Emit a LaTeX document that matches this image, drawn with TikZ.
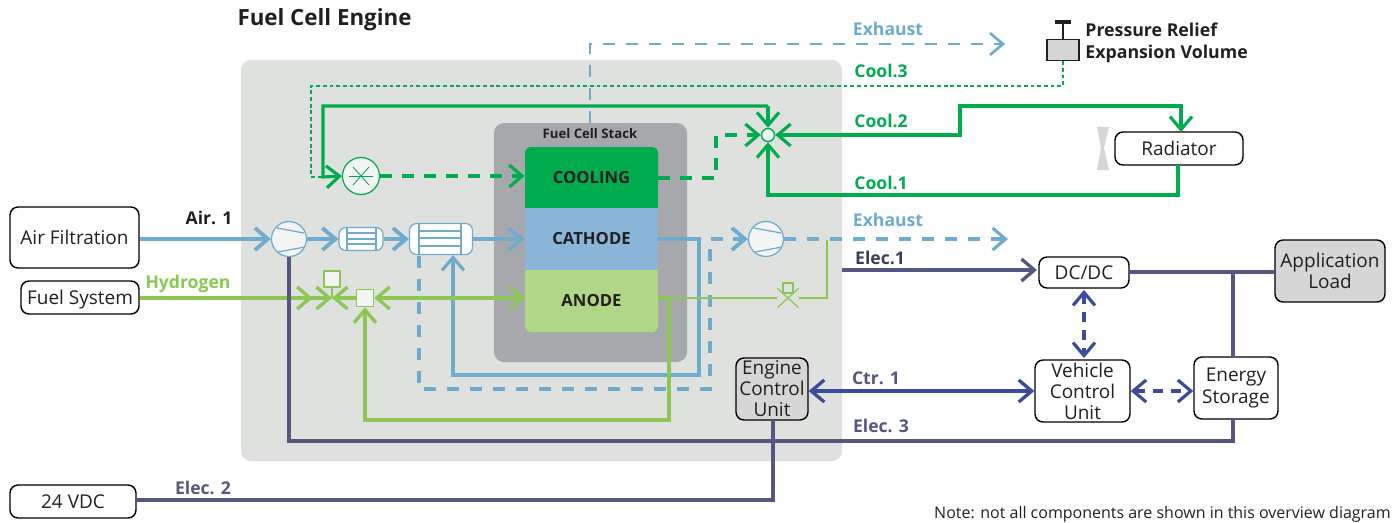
\documentclass[tikz,border=0pt]{standalone}
\usepackage{fontspec}
\setmainfont{Open Sans}
\usetikzlibrary{arrows.meta,shapes.misc}

\definecolor{panelgrey}{HTML}{DFE1DE}
\definecolor{stackgrey}{HTML}{A7A8AB}
\definecolor{coolgreen}{HTML}{00AC4E}
\definecolor{hydrogreen}{HTML}{8CC653}
\definecolor{anodegreen}{HTML}{AFD786}
\definecolor{airblue}{HTML}{6FABCD}
\definecolor{cathodeblue}{HTML}{88B5D8}
\definecolor{elecpurple}{HTML}{56577F}
\definecolor{ctrblue}{HTML}{3C4B9B}
\definecolor{symbolfill}{HTML}{F3F5F4}
\definecolor{loadgrey}{HTML}{D6D6D6}
\definecolor{inktext}{HTML}{231F20}

\tikzset{
    chevron/.style={-{Straight Barb[length=.26cm,width=.44cm]}},
    twochevron/.style={<->,>={Straight Barb[length=.26cm,width=.44cm]}},
    unitbox/.style={draw=black, thick, rounded corners=.16cm, fill=white, text=inktext, inner sep=0pt, align=center, font=\fontsize{10.8}{12}\selectfont},
    greybox/.style={unitbox, fill=loadgrey},
    layer/.style={inner sep=0pt, font=\fontsize{9.5}{11}\selectfont\bfseries, text=inktext},
    flowlabel/.style={inner sep=0pt, font=\fontsize{10}{12}\selectfont\bfseries},
    compressor/.style={shape=circle, draw=airblue, line width=.7pt, fill=symbolfill, minimum size=.7cm, inner sep=0pt,
        path picture={
            \draw[airblue, line width=.7pt] ([shift={(-12,-11)}]path picture bounding box.center) -- ++(27,5);
            \draw[airblue, line width=.7pt] ([shift={(-11,13)}]path picture bounding box.center) -- ++(27,-5);
        }},
    coolpump/.style={shape=circle, draw=coolgreen, line width=.7pt, fill=symbolfill, minimum size=.74cm, inner sep=0pt,
        path picture={
            \draw[coolgreen, line width=.5pt] ([shift={(-12,0)}]path picture bounding box.center) -- ++(24,0);
            \draw[coolgreen, line width=.5pt] ([shift={(-8,-9)}]path picture bounding box.center) -- ++(16,18);
            \draw[coolgreen, line width=.5pt] ([shift={(-8,9)}]path picture bounding box.center) -- ++(16,-18);
        }},
    exchanger/.style={draw=airblue, line width=.7pt, fill=white, rounded corners=.14cm, inner sep=0pt},
    exline/.style={airblue, line width=.7pt},
    valvebox/.style={draw=hydrogreen, line width=.8pt, fill=symbolfill, inner sep=0pt},
    airpipe/.style={airblue, line width=2.2pt},
    airreturn/.style={airblue, line width=1.8pt},
    airdash/.style={airblue, line width=1.8pt, dash pattern=on .24cm off .22cm},
    coolpipe/.style={coolgreen, line width=1.8pt},
    cooldash/.style={coolgreen, line width=1.8pt, dash pattern=on .24cm off .2cm},
    coolthin/.style={coolgreen, line width=.6pt, dash pattern=on 2.2pt off 1.6pt},
    hydropipe/.style={hydrogreen, line width=1.9pt},
    hydrothin/.style={hydrogreen, line width=.9pt},
    elecpipe/.style={elecpurple, line width=1.9pt},
    ctrpipe/.style={ctrblue, line width=1.9pt},
    ctrdash/.style={ctrblue, line width=1.8pt, dash pattern=on .2cm off .16cm},
}

\begin{document}
\begin{tikzpicture}[x=.02cm,y=-.02cm]
    \useasboundingbox (0,0) rectangle (1394,522);

    % grey backgrounds
    \fill[panelgrey, rounded corners=.2cm] (241,60) rectangle (842,461);
    \fill[stackgrey, rounded corners=.2cm] (494,123) rectangle (687,362);
    \node[inner sep=0pt, font=\fontsize{12.7}{15}\selectfont\bfseries, text=inktext] (engine) at (324.5,20) {Fuel Cell Engine};
    \node[inner sep=0pt, font=\fontsize{7.5}{9}\selectfont\bfseries, text=inktext] (stack) at (590,134) {Fuel Cell Stack};

    % the three layers of the stack
    \fill[coolgreen, rounded corners=.12cm] (525,147) rectangle (658,190);
    \fill[coolgreen] (525,170) rectangle (658,208);
    \fill[anodegreen, rounded corners=.12cm] (525,290) rectangle (658,332);
    \fill[anodegreen] (525,270) rectangle (658,310);
    \node[layer, minimum width=2.66cm, minimum height=1.22cm] (cooling) at (591.5,178) {COOLING};
    \node[fill=cathodeblue, layer, minimum width=2.66cm, minimum height=1.24cm] (cathode) at (591.5,239) {CATHODE};
    \node[layer, minimum width=2.66cm, minimum height=1.24cm] (anode) at (591.5,301) {ANODE};

    % units
    \node[unitbox, minimum width=2.58cm, minimum height=1.22cm] (airfilter) at (74.5,237.5) {Air Filtration};
    \node[unitbox, text depth=0pt, minimum width=2.36cm, minimum height=.66cm] (fuelsys) at (80,297.5) {Fuel System};
    \node[unitbox, minimum width=2.52cm, minimum height=.66cm] (vdc) at (73,501.5) {24 VDC};
    \node[unitbox, minimum width=2.56cm, minimum height=.66cm] (radiator) at (1179,148.5) {Radiator};
    \node[unitbox, minimum width=1.8cm, minimum height=.62cm] (dcdc) at (1084,272.5) {DC/DC};
    \node[greybox, minimum width=2.2cm, minimum height=1.24cm] (appload) at (1330,271) {Application\\Load};
    \node[unitbox, minimum width=1.68cm, minimum height=1.24cm] (storage) at (1236,388) {Energy\\Storage};
    \node[unitbox, minimum width=1.9cm, minimum height=1.24cm] (vcu) at (1082.5,391) {Vehicle\\Control\\Unit};
    \node[greybox, minimum width=1.44cm, minimum height=1.24cm] (ecu) at (772,389) {Engine\\Control\\Unit};

    % symbols on the pipes
    \node[compressor] (aircomp) at (289,239) {};
    \node[compressor] (exhcomp) at (766,239) {};
    \node[coolpump] (pump) at (361,176) {};
    \node[exchanger, minimum width=.88cm, minimum height=.46cm] (humid) at (361,239) {};
    \draw[exline] (347,228) -- (347,250) (376,228) -- (376,250);
    \draw[exline] (347,233) -- (376,233) (347,239) -- (376,239) (347,244) -- (376,244);
    \node[exchanger, minimum width=1.26cm, minimum height=.62cm] (cooler) at (441,239) {};
    \draw[exline] (419,224) -- (419,254) (461,224) -- (461,254);
    \draw[exline] (419,231) -- (461,231) (419,238) -- (461,238) (419,246) -- (461,246);
    \node[valvebox, minimum size=.32cm] (h2valve) at (332,279) {};
    \coordinate (h2mix) at (332,298);
    \node[valvebox, minimum size=.34cm] (h2box) at (365,298) {};
    \node[shape=circle, draw=coolgreen, line width=.8pt, fill=symbolfill, minimum size=.26cm, inner sep=0pt] (coolvalve) at (768,135) {};
    \node[shape=cross out, draw=hydrogreen, line width=.7pt, minimum width=.4cm, minimum height=.36cm, inner sep=0pt] (purge) at (788,298) {};
    \node[draw=hydrogreen, line width=.7pt, minimum size=.2cm, inner sep=0pt] (purgebox) at (788,288) {};

    % pressure relief
    \node[draw=inktext, line width=.8pt, fill=loadgrey, minimum width=.64cm, minimum height=.42cm, inner sep=0pt] (tank) at (1063,50) {};
    \coordinate (reliefcap) at (1063,22);
    \draw[inktext, line width=1.4pt] (tank) -- (reliefcap);
    \draw[inktext, line width=2.4pt] (1055,22) -- (1071,22);
    \fill[loadgrey] (1097,127) -- (1109,127) -- (1104,148) -- (1109,170) -- (1097,170) -- (1101,148) -- cycle;
    \node[inner sep=0pt, anchor=west, align=left, text=inktext, font=\fontsize{10.1}{12.4}\selectfont\bfseries] (relief) at (1085,42.5) {Pressure Relief\\Expansion Volume};

    % air
    \coordinate (exhaust1) at (1008,239);
    \coordinate (exhaust2) at (1005,44);
    \coordinate (stackdash) at (590,123);
    \draw[airpipe, chevron] (airfilter.east |- aircomp) -- (aircomp.west);
    \draw[airpipe, chevron] (aircomp.east) -- (humid.west);
    \draw[airpipe, chevron] (humid.east) -- (cooler.west);
    \draw[airpipe, chevron] (cooler.east) -- (cathode.west);
    \draw[airreturn, chevron] (cathode.east) -- (699,239) -- (699,375) -- (453,375) -- (453,255);
    \draw[airdash] (419,256) -- (419,389) -- (710,389) -- (710,239) -- (735,239);
    \draw[airpipe, chevron] (733,239) -- (exhcomp.west);
    \draw[airdash, chevron] (exhcomp.east) -- (exhaust1);
    \draw[airdash, chevron, line width=1.5pt] (stackdash) -- (590,44) -- (exhaust2);

    % cooling
    \coordinate (radin) at (1181,132);
    \coordinate (radout) at (1178,165);
    \draw[coolthin] (tank.south) -- (1063,86) -- (311,86) -- (311,177) -- (330,177);
    \draw[coolpipe, chevron] (768,106) -- (323,106) -- (323,177) -- (pump.west);
    \draw[coolpipe, chevron] (768,106) -- (coolvalve.north);
    \draw[cooldash, chevron] (pump.east) -- (pump.east -| cooling.west);
    \draw[cooldash, chevron] (cooling.east) -- (716,178) -- (716,135) -- (coolvalve.west);
    \draw[coolpipe, twochevron] (coolvalve.east) -- (960,135) -- (960,106) -- (1181,106) -- (radin);
    \draw[coolpipe, chevron] (radout) -- (1178,195) -- (768,195) -- (coolvalve.south);

    % hydrogen
    \coordinate (anodeout) at (658,298);
    \coordinate (anodein) at (525,298);
    \draw[hydrothin] (h2valve) -- (h2mix);
    \draw[hydropipe, -{Straight Barb[length=.26cm,width=.44cm,sep=.04cm]Straight Barb[length=.26cm,width=.44cm]}] (fuelsys.east |- h2mix) -- (h2mix);
    \draw[hydropipe, chevron] (h2box.west) -- (h2mix);
    \draw[hydropipe, twochevron] (h2box.east) -- (anodein);
    \draw[hydropipe, chevron] (anodeout) -- (669,298) -- (669,420) -- (365,420) -- (h2box.south);
    \draw[hydrothin] (anodeout) -- (purge) -- (827,298) -- (827,240);

    % electric
    \coordinate (elecin) at (842,270);
    \coordinate (dcin) at (1037,270);
    \coordinate (dcout) at (1129,272);
    \coordinate (loadin) at (1275,272);
    \coordinate (storetop) at (1233,357);
    \coordinate (storebot) at (1233,419);
    \coordinate (ecubot) at (773,420);
    \draw[elecpipe, chevron] (elecin) -- (dcin);
    \draw[elecpipe] (dcout) -- (loadin);
    \draw[elecpipe] (1233,272) -- (storetop);
    \draw[elecpipe] (storebot) -- (1233,441) -- (289,441) -- (aircomp.south);
    \draw[elecpipe] (vdc.east |- 0,500) -- (773,500) -- (ecubot);
    \coordinate (dcbot) at (1084,290);
    \coordinate (vcutop) at (1084,358);
    \draw[ctrpipe, twochevron] (ecu.east |- vcu.west) -- (vcu.west);
    \draw[ctrdash, twochevron] (dcbot) -- (vcutop);
    \draw[ctrdash, twochevron] (vcu.east) -- (storage.west |- vcu.east);

    % labels
    \node[flowlabel, text=inktext] (airlabel) at (209,218) {Air. 1};
    \node[flowlabel, text=hydrogreen] (hydrolabel) at (188,284) {Hydrogen};
    \node[flowlabel, text=airblue] (exhlabela) at (888,29) {Exhaust};
    \node[flowlabel, text=airblue] (exhlabelb) at (888,220) {Exhaust};
    \node[flowlabel, text=coolgreen] (cool3) at (881,71) {Cool.3};
    \node[flowlabel, text=coolgreen] (cool2) at (881,121) {Cool.2};
    \node[flowlabel, text=coolgreen] (cool1) at (881,183) {Cool.1};
    \node[flowlabel, text=elecpurple!70!black] (elec1) at (880,258) {Elec.1};
    \node[flowlabel, text=elecpurple] (elec2) at (203,488) {Elec. 2};
    \node[flowlabel, text=elecpurple] (elec3) at (881,426) {Elec. 3};
    \node[flowlabel, text=elecpurple] (ctr1) at (876,378) {Ctr. 1};
    \node[inner sep=0pt, anchor=east, text=inktext, font=\fontsize{9.1}{11}\selectfont] (note) at (1391,514.5) {Note: not all components are shown in this overview diagram};
\end{tikzpicture}
\end{document}
